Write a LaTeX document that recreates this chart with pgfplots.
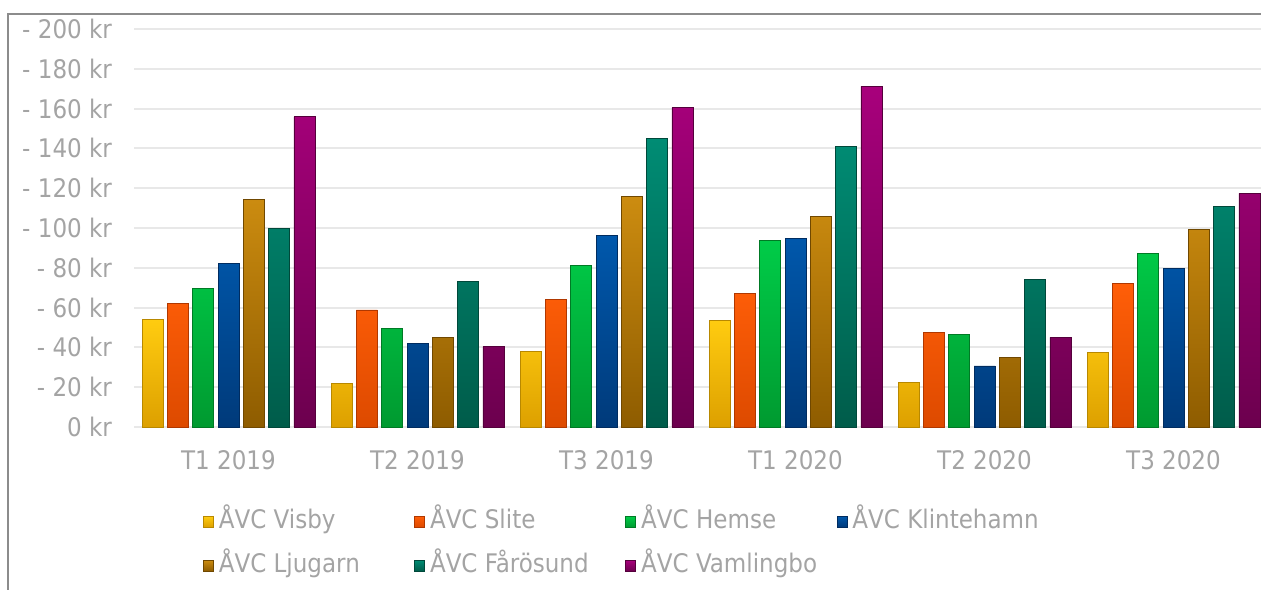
\documentclass[border=0pt]{standalone}
\usepackage{fontspec}
\setmainfont{DejaVu Sans Condensed}
\usepackage{pgfplots}
\pgfplotsset{compat=1.18}
\definecolor{labgray}{HTML}{A4A4A4}
\definecolor{cYt}{HTML}{FFCC10}\definecolor{cYb}{HTML}{DDA000}\definecolor{cYd}{HTML}{B88800}
\definecolor{cOt}{HTML}{FF5E08}\definecolor{cOb}{HTML}{DD4A00}\definecolor{cOd}{HTML}{B03800}
\definecolor{cGt}{HTML}{00CC48}\definecolor{cGb}{HTML}{009A30}\definecolor{cGd}{HTML}{007A25}
\definecolor{cBt}{HTML}{0058AC}\definecolor{cBb}{HTML}{003A7A}\definecolor{cBd}{HTML}{002C60}
\definecolor{cNt}{HTML}{CC8C10}\definecolor{cNb}{HTML}{8E5C00}\definecolor{cNd}{HTML}{704800}
\definecolor{cTt}{HTML}{008C74}\definecolor{cTb}{HTML}{005C4A}\definecolor{cTd}{HTML}{00483A}
\definecolor{cPt}{HTML}{A8007C}\definecolor{cPb}{HTML}{6C004E}\definecolor{cPd}{HTML}{55003C}
\begin{document}
\begin{tikzpicture}[font=\fontsize{12.8}{14}\selectfont]
\begin{axis}[
  at={(0,0)}, anchor=south west,
  scale only axis, width=567pt, height=199pt,
  xmin=-0.5, xmax=5.5, ymin=0, ymax=200,
  ybar=2.15pt, bar width=10.5pt,
  xtick={0,...,5},
  xticklabels={T1 2019,T2 2019,T3 2019,T1 2020,T2 2020,T3 2020},
  ytick={0,20,...,200},
  yticklabels={0 kr,- 20 kr,- 40 kr,- 60 kr,- 80 kr,- 100 kr,- 120 kr,- 140 kr,- 160 kr,- 180 kr,- 200 kr},
  ymajorgrids, grid style={draw=black!9, line width=1pt},
  axis line style={draw=none}, major tick length=0pt,
  tick label style={text=labgray},
  yticklabel style={xshift=-7.5pt},
  xticklabel style={yshift=-8pt},
  legend columns=4,
  legend cell align=left,
  legend style={draw=none, fill=none, inner sep=0pt, at={(0.0605,-0.196)}, anchor=north west,
    text=labgray, nodes={inner sep=1.5pt, text height=10pt, text depth=3pt},
    /tikz/every even column/.style={column sep=0pt},
    row sep=6pt},
  legend image code/.code={\draw[#1, line width=0.4pt] (0pt,-2.9pt) rectangle (5pt,2.6pt);},
]
\addplot[draw=cYd, top color=cYt, bottom color=cYb] coordinates {(0,54.1) (1,21.9) (2,38.0) (3,53.4) (4,22.5) (5,37.5)};
\addplot[draw=cOd, top color=cOt, bottom color=cOb] coordinates {(0,62.2) (1,58.8) (2,64.2) (3,67.3) (4,47.7) (5,72.0)};
\addplot[draw=cGd, top color=cGt, bottom color=cGb] coordinates {(0,69.5) (1,49.7) (2,81.2) (3,93.8) (4,46.7) (5,87.4)};
\addplot[draw=cBd, top color=cBt, bottom color=cBb] coordinates {(0,82.4) (1,42.1) (2,96.3) (3,94.8) (4,30.7) (5,79.7)};
\addplot[draw=cNd, top color=cNt, bottom color=cNb] coordinates {(0,114.4) (1,45.1) (2,115.7) (3,106.0) (4,34.8) (5,99.3)};
\addplot[draw=cTd, top color=cTt, bottom color=cTb] coordinates {(0,99.8) (1,73.0) (2,144.9) (3,141.2) (4,74.2) (5,110.7)};
\addplot[draw=cPd, top color=cPt, bottom color=cPb] coordinates {(0,155.9) (1,40.4) (2,160.5) (3,171.2) (4,45.1) (5,117.4)};
\legend{\makebox[97.2pt][l]{\hspace{1pt}ÅVC Visby},\makebox[97.2pt][l]{\hspace{1pt}ÅVC Slite},\makebox[97.2pt][l]{\hspace{1pt}ÅVC Hemse},\makebox[97.2pt][l]{\hspace{1pt}ÅVC Klintehamn},\makebox[97.2pt][l]{\hspace{1pt}ÅVC Ljugarn},\makebox[97.2pt][l]{\hspace{1pt}ÅVC Fårösund},\makebox[97.2pt][l]{\hspace{1pt}ÅVC Vamlingbo}}
\end{axis}
\draw[color=black!45, line width=1pt] (-63pt,-95pt) -- (-63pt,206.5pt) -- (575pt,206.5pt);
\pgfresetboundingbox
\path[use as bounding box] (-67pt,-81pt) rectangle (563.5pt,213.5pt);
\end{tikzpicture}
\end{document}
